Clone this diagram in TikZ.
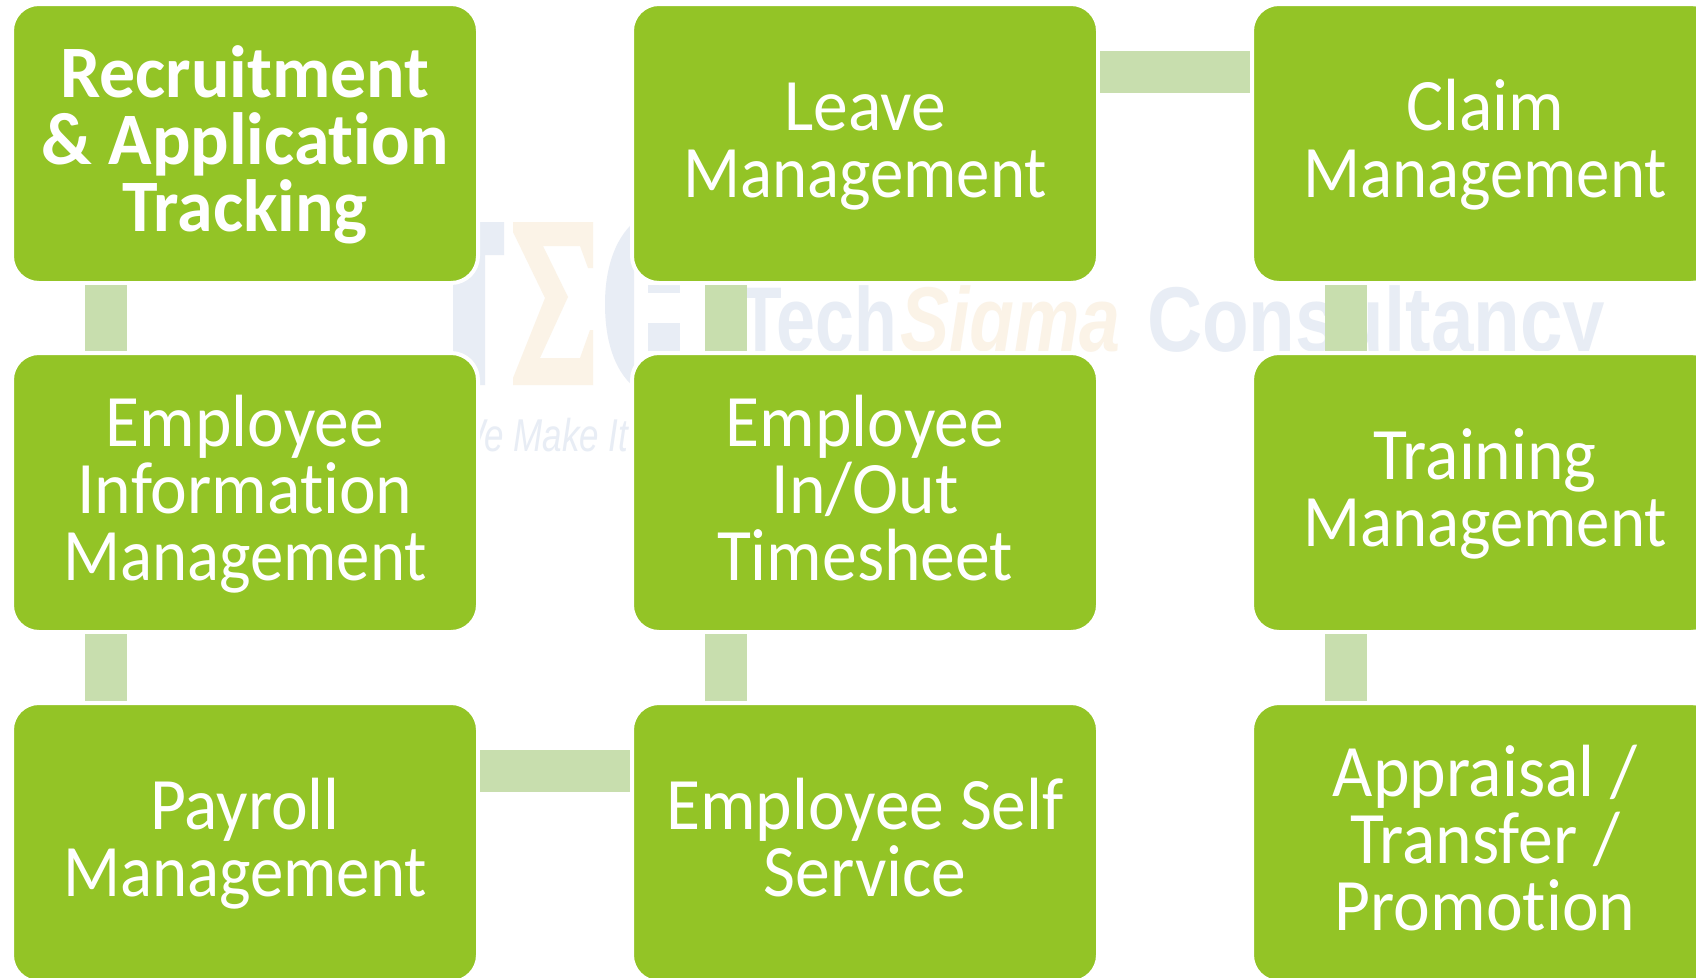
\documentclass[tikz,border=0pt]{standalone}
\usepackage{fontspec}
\usepackage{graphicx}
\setmainfont[Ligatures=NoCommon,FakeStretch=0.94,BoldFeatures={FakeStretch=0.97}]{Carlito}
\newfontfamily\wmfont{Liberation Sans}
\definecolor{boxgreen}{HTML}{93C426}
\definecolor{linkgreen}{HTML}{C8DEAE}
\definecolor{wmblue}{HTML}{E8EDF5}
\definecolor{wmorange}{HTML}{FBF3E7}
\newcommand{\ls}{\rule[-18pt]{0pt}{77.5pt}}
\newcommand{\mgmt}{\scalebox{.96}[1]{Management}}
\newcommand{\boxfont}{\fontsize{74}{67}\selectfont\setlength{\lineskiplimit}{-100pt}}
\tikzset{
  hrbox/.style={rectangle, rounded corners=27pt, fill=boxgreen, draw=white, line width=4pt,
    minimum width=466pt, minimum height=279pt, outer sep=0pt, inner sep=0pt, align=center,
    text=white, font=\boxfont},
  vlink/.style={linkgreen, line width=42pt, shorten >=2pt, shorten <=2pt},
  hlink/.style={linkgreen, line width=42pt, shorten >=2pt, shorten <=2pt},
  wm/.style={anchor=base west, inner sep=0pt, outer sep=0pt},
}
\begin{document}
\begin{tikzpicture}[x=1pt,y=-1pt]
\useasboundingbox (0,0) rectangle (1696,977);
\clip (0,0) rectangle (1696,977);
\fill[white] (0,0) rectangle (1696,977);
% watermark
\fill[wmblue] (445,222) -- (504,222) -- (504,255) -- (485,255) -- (485,385) -- (453,385) -- (453,255) -- (445,255) -- cycle;
\fill[wmorange] (513,222) -- (593,222) -- (593,268) -- (588,268) -- (580,246) -- (543,246) -- (568,297) -- (540,358) -- (580,358) -- (590,330) -- (593,330) -- (593,385) -- (513,385) -- (513,378) -- (545,298) -- (513,232) -- cycle;
\fill[wmblue] (634,222) .. controls (614,240) and (605,270) .. (605,304) .. controls (605,340) and (614,370) .. (634,387) -- cycle;
\fill[wmblue] (648,285) rectangle (680,293);
\fill[wmblue] (648,323) rectangle (680,351);
\begin{scope}
\clip (700,270) rectangle (1696,352);
\node[wm,text=wmblue] (wmtech) at (739,351) {\wmfont\fontsize{92}{92}\selectfont\bfseries\scalebox{.76}[1]{Tech}};
\node[wm,text=wmorange] (wmsigma) at (900,351) {\wmfont\fontsize{92}{92}\selectfont\bfseries\itshape\scalebox{.80}[1]{Sigma}};
\node[wm,text=wmblue] (wmcons) at (1147,351) {\wmfont\fontsize{92}{92}\selectfont\bfseries\scalebox{.83}[1]{Consultancy}};
\end{scope}
\node[wm,text=wmblue] (wmmake) at (452,451) {\wmfont\fontsize{46}{46}\selectfont\itshape\scalebox{.76}[1]{We Make It}};
% boxes
\node[hrbox,font=\boxfont\bfseries] (rec) at (245,143.5) {\ls Recruitment\\\ls \& Application\\\ls Tracking};
\node[hrbox] (info) at (245,492.5) {\ls Employee\\\ls Information\\\ls \mgmt};
\node[hrbox] (pay) at (245,842.5) {\ls Payroll\\\ls \mgmt};
\node[hrbox] (leave) at (865,143.5) {\ls Leave\\\ls \mgmt};
\node[hrbox] (inout) at (865,492.5) {\ls Employee\\\ls In/Out\\\ls Timesheet};
\node[hrbox] (ess) at (865,842.5) {\ls Employee Self\\\ls Service};
\node[hrbox] (claim) at (1485,143.5) {\ls Claim\\\ls \mgmt};
\node[hrbox] (train) at (1485,492.5) {\ls Training\\\ls \mgmt};
\node[hrbox] (appr) at (1485,842.5) {\ls Appraisal /\\\ls Transfer /\\\ls Promotion};
% connectors
\draw[vlink] ([xshift=94pt]rec.south west) -- ([xshift=94pt]info.north west);
\draw[vlink] ([xshift=94pt]info.south west) -- ([xshift=94pt]pay.north west);
\draw[hlink] ([yshift=-68pt]pay.north east) -- ([yshift=-68pt]ess.north west);
\draw[vlink] ([xshift=93.5pt]ess.north west) -- ([xshift=93.5pt]inout.south west);
\draw[vlink] ([xshift=93.5pt]inout.north west) -- ([xshift=93.5pt]leave.south west);
\draw[hlink] ([yshift=-68pt]leave.north east) -- ([yshift=-68pt]claim.north west);
\draw[vlink] ([xshift=94pt]claim.south west) -- ([xshift=94pt]train.north west);
\draw[vlink] ([xshift=94pt]train.south west) -- ([xshift=94pt]appr.north west);
\end{tikzpicture}
\end{document}
